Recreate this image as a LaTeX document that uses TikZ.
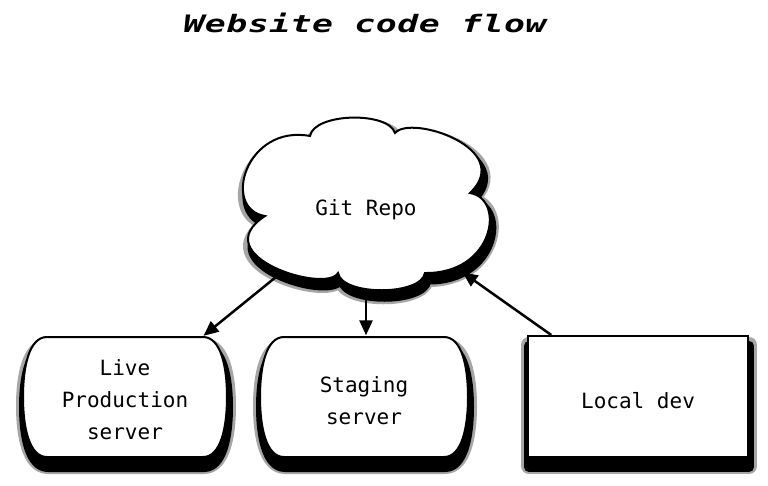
\documentclass[tikz,border=0pt]{standalone}
\usepackage{fontspec}
\usetikzlibrary{shapes.geometric,arrows.meta,backgrounds}
\newfontfamily\monofnt{DejaVu Sans Mono}
\newfontfamily\titlefnt[FakeStretch=1.45,LetterSpace=2]{DejaVu Sans Mono Bold Oblique}
% rounded "terminal" outline drawn round a named node: name, half width, y offset
\newcommand\termbox[3]{%
  \begin{scope}[shift={(#1.center)}]
    \path[boxline] (24-#2,#3-60) -- (#2-24,#3-60)
      .. controls (#2-6,#3-60) and (#2,#3-30) .. (#2,#3)
      .. controls (#2,#3+30) and (#2-6,#3+60) .. (#2-24,#3+60)
      -- (24-#2,#3+60)
      .. controls (6-#2,#3+60) and (-#2,#3+30) .. (-#2,#3)
      .. controls (-#2,#3-30) and (6-#2,#3-60) .. cycle;
  \end{scope}}
\begin{document}
\begin{tikzpicture}[x=1pt,y=-1pt,
  shad/.style={
    preaction={draw=black!35,fill=black!35,line width=16pt,line join=round,
      transform canvas={shift={(1pt,-9pt)}}},
    preaction={draw=black,fill=black,line width=10pt,line join=round,
      transform canvas={shift={(1pt,-10pt)}}}},
  cloudshad/.style={
    preaction={draw=black!35,fill=black!35,line width=14pt,line join=round,
      transform canvas={shift={(2pt,-7pt)}}},
    preaction={draw=black,fill=black,line width=7pt,line join=round,
      transform canvas={shift={(3pt,-8pt)}}}},
  boxline/.style={draw=black,line width=2pt,fill=white,shad},
  cloudline/.style={draw=black,line width=2pt,fill=white,cloudshad},
  txt/.style={font=\monofnt\fontsize{21}{32}\selectfont,align=center,inner sep=0pt},
  arr/.style={line width=2.5pt,-{Triangle[length=15pt,width=13pt]}}]
\useasboundingbox (0,0) rectangle (768,485);
\node[anchor=base,font=\titlefnt\fontsize{24}{28}\selectfont] (title) at (365,32) {Website code flow};
\node[txt,ellipse,minimum width=330pt,minimum height=168pt,text height=23pt,text depth=0pt] (git) at (366,204) {Git Repo};
\node[txt,rectangle,minimum width=204pt,minimum height=127pt] (live) at (125,399.5) {Live\\Production\\server};
\node[txt,rectangle,minimum width=208pt,minimum height=131pt] (stage) at (364,401) {Staging\\server};
\begin{pgfonlayer}{background}
  \fill[white] (0,0) rectangle (768,485);
  \begin{scope}[shift={(git.center)}]
    \path[cloudline] (-101,12)
      .. controls (-145,5) and (-120,-80) .. (-56,-68)
      .. controls (-52,-91) and (22,-93) .. (29,-71)
      .. controls (45,-90) and (150,-55) .. (104,-11)
      .. controls (140,-5) and (128,70) .. (59,69)
      .. controls (55,92) and (-24,92) .. (-28,69)
      .. controls (-40,90) and (-162,52) .. cycle;
  \end{scope}
  \termbox{live}{102}{-2.5}
  \termbox{stage}{104}{-4}
\end{pgfonlayer}
\node[txt,rectangle,boxline,minimum width=220pt,minimum height=121pt,text height=23pt,text depth=0pt] (local) at (638,396.5) {Local dev};
\draw[arr] (git) -- (live);
\draw[arr] (git.south) -- (git.south |- stage.north);
\draw[arr] (local) -- (git);
\end{tikzpicture}
\end{document}
